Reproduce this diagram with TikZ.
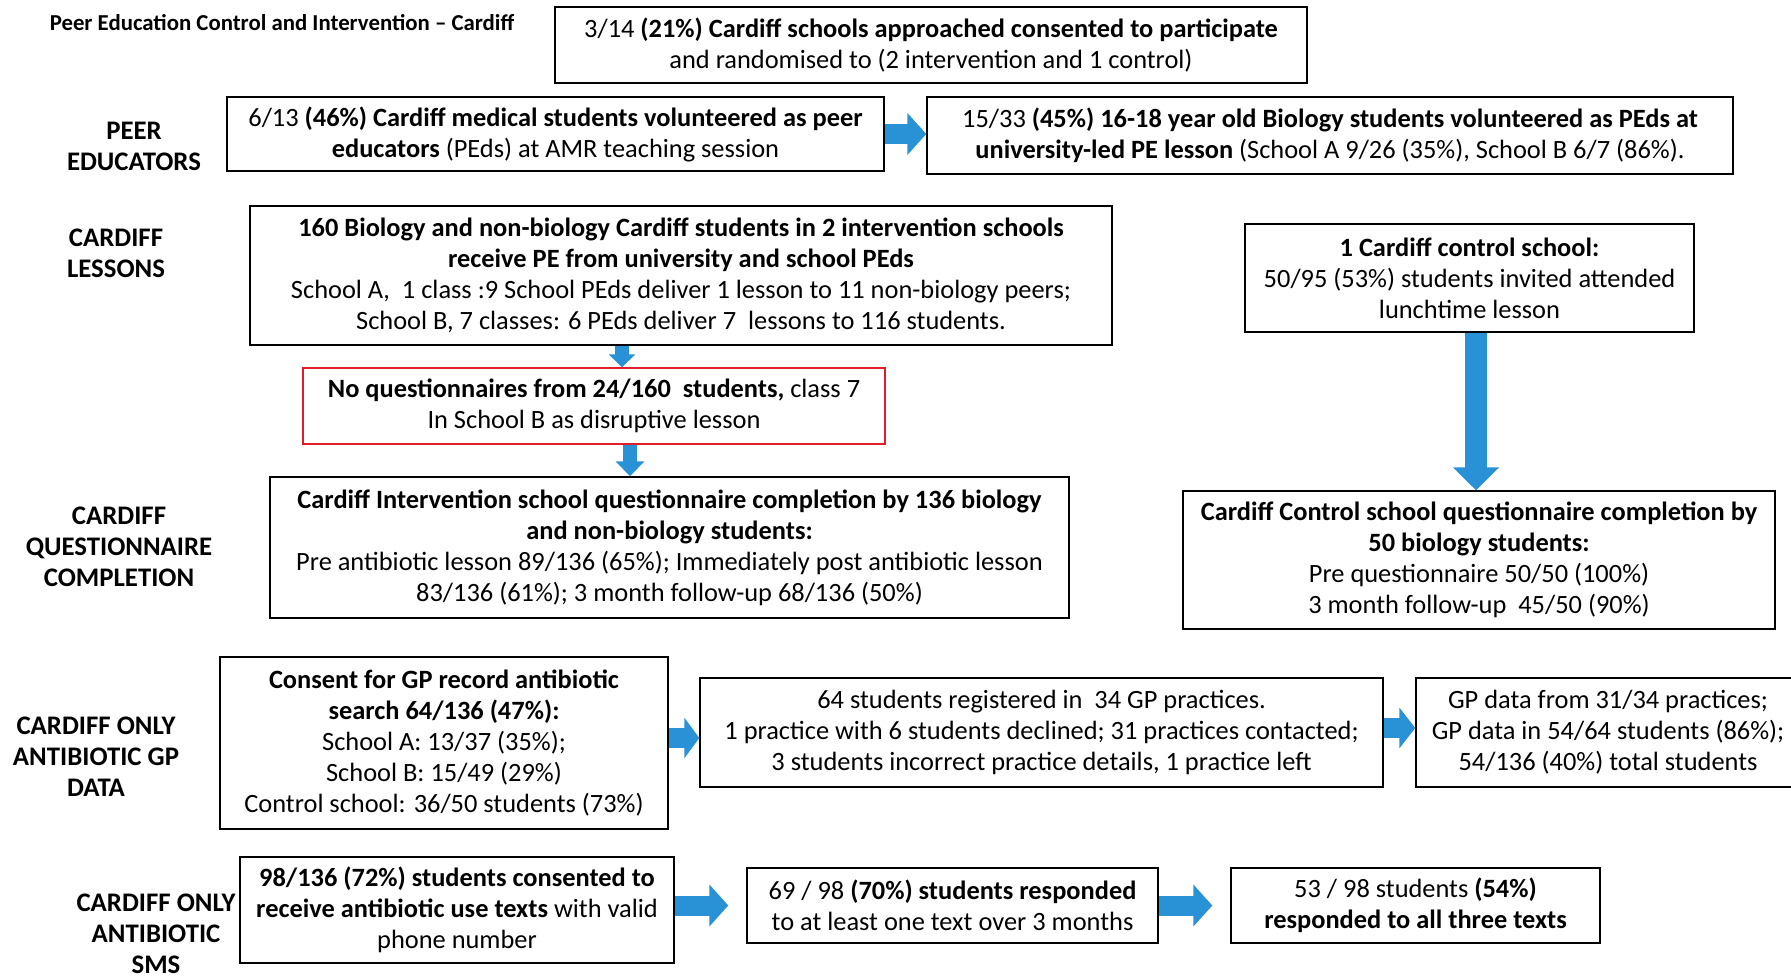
\documentclass[tikz,border=0pt]{standalone}
\usepackage{fontspec}
\setmainfont{Carlito}
\usetikzlibrary{arrows.meta}
\definecolor{arrowblue}{RGB}{41,146,214}
\definecolor{boxred}{RGB}{225,30,40}

\begin{document}
\begin{tikzpicture}[x=0.5pt, y=-0.5pt,
    flowbox/.style={draw, line width=0.7pt, align=center, inner sep=0pt,
      font=\fontsize{13.2}{15.5}\selectfont},
    rowlabel/.style={align=center, font=\fontsize{13.4}{15.5}\selectfont\bfseries},
    blockarrow/.style={arrowblue, line width=10pt, -{Triangle[length=9.5pt, width=20.5pt]}},
    smallarrow/.style={arrowblue, line width=7pt, -{Triangle[length=6.5pt, width=13pt]}}]
            \useasboundingbox (0,0) rectangle (1791,977);

            % title and row labels on the left
            \node[rowlabel, font=\fontsize{11.4}{13}\selectfont\bfseries] (title) at (282,23) {Peer Education Control and Intervention -- Cardiff};
            \node[rowlabel] (lpeer) at (134,146) {PEER\\EDUCATORS};
            \node[rowlabel] (llessons) at (116,253) {CARDIFF\\LESSONS};
            \node[rowlabel] (lquest) at (119,547) {CARDIFF\\QUESTIONNAIRE\\COMPLETION};
            \node[rowlabel] (lgp) at (96,757) {CARDIFF ONLY\\ANTIBIOTIC GP\\DATA};
            \node[rowlabel] (lsms) at (156,934) {CARDIFF ONLY\\ANTIBIOTIC\\SMS};

            % boxes
            \node[flowbox, minimum width=376pt, minimum height=38pt] (schools) at (931,45)
              {3/14 \textbf{(21\%) Cardiff schools approached consented to participate}\\and randomised to (2 intervention and 1 control)};
            \node[flowbox, minimum width=328.5pt, minimum height=37pt] (med) at (555.5,134)
              {6/13 \textbf{(46\%) Cardiff medical students volunteered as peer}\\\textbf{educators} (PEds) at AMR teaching session};
            \node[flowbox, minimum width=403pt, minimum height=38.5pt] (bio) at (1330,135.5)
              {15/33 \textbf{(45\%) 16-18 year old Biology students volunteered as PEds at}\\\textbf{university-led PE lesson} (School A 9/26 (35\%), School B 6/7 (86\%).};
            \node[flowbox, minimum width=431pt, minimum height=69.5pt] (lessons) at (681,275.5)
              {\textbf{160 Biology and non-biology Cardiff students in 2 intervention schools}\\\textbf{receive PE from university and school PEds}\\School A,\ \ 1 class :9 School PEds deliver 1 lesson to 11 non-biology peers;\\School B, 7 classes: 6 PEds deliver 7\ \ lessons to 116 students.};
            \node[flowbox, minimum width=224.5pt, minimum height=54pt] (control) at (1469.5,278)
              {\textbf{1 Cardiff control school:}\\50/95 (53\%) students invited attended\\lunchtime lesson};
            \node[flowbox, draw=boxred, minimum width=291pt, minimum height=38pt] (missing) at (594,406)
              {\textbf{No questionnaires from 24/160\ \ students,} class 7\\In School B as disruptive lesson};
            \node[flowbox, minimum width=399.5pt, minimum height=70.5pt] (intq) at (669.5,547.5)
              {\textbf{Cardiff Intervention school questionnaire completion by 136 biology}\\\textbf{and non-biology students:}\\Pre antibiotic lesson 89/136 (65\%); Immediately post antibiotic lesson\\83/136 (61\%); 3 month follow-up 68/136 (50\%)};
            \node[flowbox, minimum width=296pt, minimum height=69pt] (ctrlq) at (1479,560)
              {\textbf{Cardiff Control school questionnaire completion by}\\\textbf{50 biology students:}\\Pre questionnaire 50/50 (100\%)\\3 month follow-up\ \ 45/50 (90\%)};
            \node[flowbox, minimum width=224pt, minimum height=86pt] (gpconsent) at (444,743)
              {\textbf{Consent for GP record antibiotic}\\\textbf{search 64/136 (47\%):}\\School A: 13/37 (35\%);\\School B: 15/49 (29\%)\\Control school: 36/50 students (73\%)};
            \node[flowbox, minimum width=341.5pt, minimum height=54.5pt] (gpreg) at (1041.5,732.5)
              {64 students registered in\ \ 34 GP practices.\\1 practice with 6 students declined; 31 practices contacted;\\3 students incorrect practice details, 1 practice left};
            \node[flowbox, minimum width=192pt, minimum height=54.5pt] (gpdata) at (1608,732.5)
              {GP data from 31/34 practices;\\GP data in 54/64 students (86\%);\\54/136 (40\%) total students};
            \node[flowbox, minimum width=217pt, minimum height=53pt] (smsconsent) at (457,910)
              {\textbf{98/136 (72\%) students consented to}\\\textbf{receive antibiotic use texts} with valid\\phone number};
            \node[flowbox, minimum width=205.5pt, minimum height=37.5pt] (resp1) at (952.5,905.5)
              {69 / 98 \textbf{(70\%) students responded}\\to at least one text over 3 months};
            \node[flowbox, minimum width=184.5pt, minimum height=37.5pt] (resp3) at (1415.5,905.5)
              {53 / 98 students \textbf{(54\%)}\\\textbf{responded to all three texts}};

            % blue block arrows
            \draw[blockarrow] (med.east) -- (med.east -| bio.west);
            \draw[smallarrow] ([xshift=-29.5pt]lessons.south) -- ([xshift=-29.5pt]lessons.south |- missing.north);
            \draw[smallarrow, -{Triangle[length=7.5pt, width=14pt]}] ([xshift=18pt]missing.south) -- ([xshift=18pt]missing.south |- intq.north);
            \draw[blockarrow, line width=11pt, -{Triangle[length=11.5pt, width=22.5pt]}] ([xshift=3.25pt]control.south) -- ([xshift=3.25pt]control.south |- ctrlq.north);
            \draw[blockarrow, -{Triangle[length=7.5pt, width=20pt]}] ([yshift=-2.75pt]gpreg.west -| gpconsent.east) -- ([yshift=-2.75pt]gpreg.west);
            \draw[blockarrow, -{Triangle[length=8pt, width=20pt]}] ([yshift=2.25pt]gpreg.east) -- ([yshift=2.25pt]gpreg.east -| gpdata.west);
            \draw[blockarrow] (resp1.west -| smsconsent.east) -- ([xshift=-9pt]resp1.west);
            \draw[blockarrow] (resp1.east) -- ([xshift=-9pt]resp3.west);
        \end{tikzpicture}
\end{document}
